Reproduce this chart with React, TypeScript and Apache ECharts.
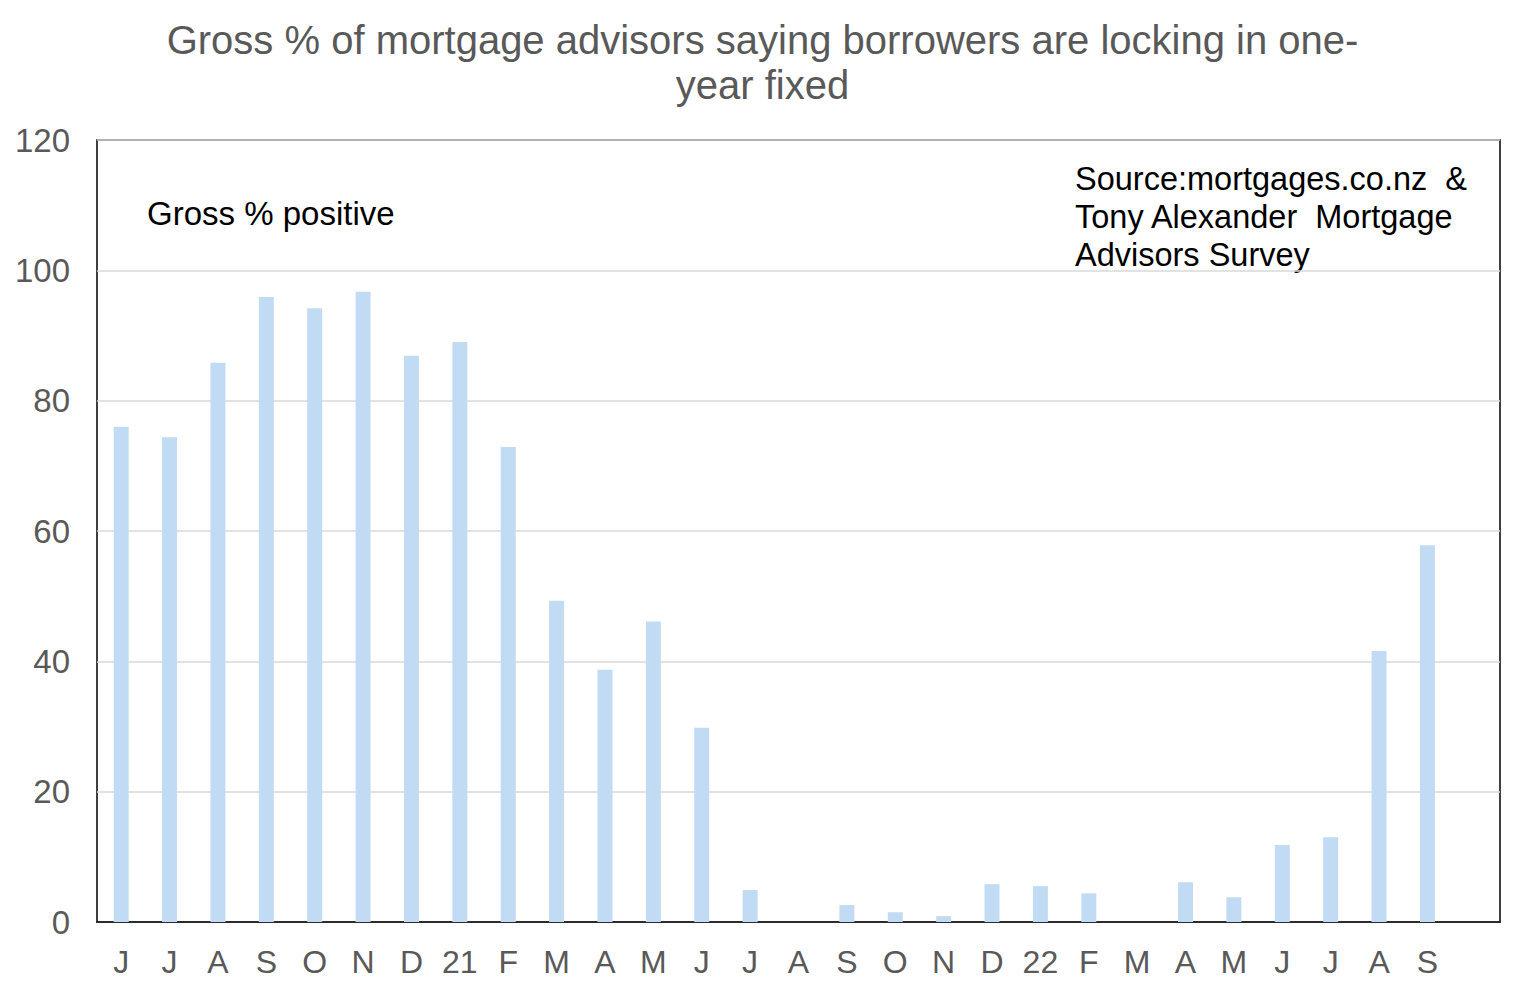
import React, { useEffect, useRef } from "react";
import * as echarts from "echarts";

const categories = ["J", "J", "A", "S", "O", "N", "D", "21", "F", "M", "A", "M", "J", "J", "A", "S", "O", "N", "D", "22", "F", "M", "A", "M", "J", "J", "A", "S", ""];
const grossPositive = [76, 74.4, 85.8, 95.9, 94.2, 96.7, 86.9, 89, 72.9, 49.3, 38.7, 46.1, 29.8, 4.9, 0, 2.6, 1.5, 0.9, 5.8, 5.5, 4.4, 0, 6.1, 3.8, 11.8, 13, 41.6, 57.8, null];
const titleText = "Gross % of mortgage advisors saying borrowers are locking in one-\nyear fixed";
const seriesLabel = "Gross % positive";
const sourceLines = ["Source:mortgages.co.nz  &", "Tony Alexander  Mortgage", "Advisors Survey"];

export default function App() {
  const ref = useRef<HTMLDivElement>(null);
  useEffect(() => {
    document.body.style.margin = "0";
    const chart = echarts.init(ref.current!, null, { renderer: "svg" });
    const font = "Liberation Sans, Arial, sans-serif";
    chart.setOption({
      animation: false,
      backgroundColor: "#fff",
      title: {
        text: titleText,
        left: "center",
        top: 12,
        textStyle: { fontFamily: font, fontSize: 40, fontWeight: "normal", color: "#595959", lineHeight: 45 },
      },
      grid: { left: 97, right: 25, top: 140, bottom: 73, show: true, borderColor: "#000", borderWidth: 1.5, backgroundColor: "transparent" },
      xAxis: {
        type: "category",
        data: categories,
        axisLine: { show: true, lineStyle: { color: "#000", width: 1.5 } },
        axisTick: { show: false },
        axisLabel: { fontFamily: font, fontSize: 32, color: "#595959", margin: 24, interval: 0 },
      },
      yAxis: {
        type: "value",
        min: 0,
        max: 120,
        interval: 20,
        axisLine: { show: false },
        axisTick: { show: false },
        splitLine: { lineStyle: { color: "#D9D9D9", width: 1.5 } },
        axisLabel: { fontFamily: font, fontSize: 33, color: "#595959", margin: 27 },
      },
      series: [
        {
          type: "bar",
          data: grossPositive,
          barWidth: 15,
          itemStyle: { color: "#C2DBF4" },
        },
      ],
      graphic: [
        {
          type: "text",
          left: 147,
          top: 197,
          style: { text: seriesLabel, fontFamily: font, fontSize: 33, fill: "#000" },
        },
        {
          type: "text",
          left: 1075,
          top: 160,
          style: { text: sourceLines.join("\n"), fontFamily: font, fontSize: 32.5, lineHeight: 38, fill: "#000" },
        },
      ],
    });
    return () => chart.dispose();
  }, []);
  return <div ref={ref} style={{ width: 1525, height: 995 }} />;
}
